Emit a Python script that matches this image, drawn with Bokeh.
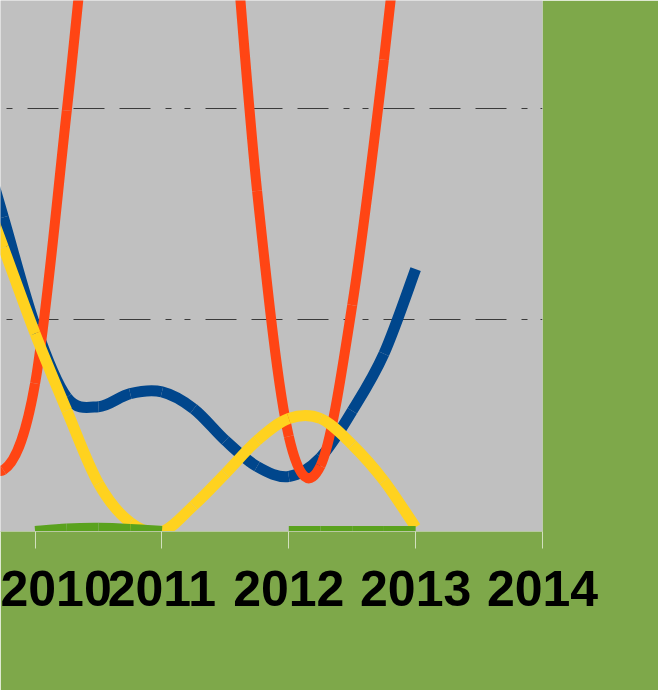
import math
from bokeh.plotting import figure
from bokeh.models import Range1d, FixedTicker, Grid, ColumnDataSource
from bokeh.embed import file_html
from bokeh.resources import INLINE

# ---- data (quarterly positions) ----
quarters = [2009.5, 2009.75, 2010.0, 2010.25, 2010.5, 2010.75, 2011.0, 2011.25,
            2011.5, 2011.75, 2012.0, 2012.25, 2012.5, 2012.75, 2013.0]
blue = [2.0, 1.485, 0.974, 0.634, 0.59, 0.652, 0.66, 0.58, 0.43, 0.307, 0.26, 0.35, 0.57, 0.84, 1.24]
orange = [0.5, 0.29, 0.70, 1.99, 3.4, 4.3, 4.6, 4.3, 3.3, 1.61, 0.45, 0.31, 1.07, 2.23, 3.6]
yellow = [1.75, 1.343, 0.936, 0.572, 0.227, 0.043, 0.0, 0.123, 0.274, 0.43, 0.534, 0.534, 0.41, 0.24, 0.02]
nan = float("nan")
green = [nan, nan, 0.0, 0.012, 0.015, 0.01, 0.0, nan, nan, nan, 0.0, 0.0, 0.0, 0.0, 0.0]
year_ticks = [2010, 2011, 2012, 2013, 2014]
grid_values = [1, 2]

BG = "#7EA84A"
PLOT_BG = "#C0C0C0"

p = figure(width=658, height=690, output_backend="svg", toolbar_location=None,
           x_range=Range1d(2009.7273, 2014.0), y_range=Range1d(0, 2.51),
           y_axis_location=None, margin=(0, 0, 0, 0),
           min_border_left=0, min_border_right=116, min_border_top=0, min_border_bottom=159)
p.border_fill_color = BG
p.background_fill_color = PLOT_BG
p.outline_line_color = None
p.xgrid.visible = False
p.ygrid.visible = False

grid = Grid(dimension=1, ticker=FixedTicker(ticks=grid_values),
            grid_line_color="#3A3A3A", grid_line_width=1,
            grid_line_dash="31 15 31 15 31 15 6 13 6 15", grid_line_dash_offset=151)
p.add_layout(grid)

ax = p.xaxis[0]
ax.ticker = FixedTicker(ticks=year_ticks)
ax.axis_line_color = "#B8C9A0"
ax.axis_line_width = 1
ax.major_tick_line_color = "#D2E0BE"
ax.major_tick_line_width = 1
ax.major_tick_in = 0
ax.major_tick_out = 17
ax.minor_tick_line_color = None
ax.major_label_standoff = 22
ax.major_label_text_font = "Liberation Sans"
ax.major_label_text_font_style = "bold"
ax.major_label_text_font_size = "50px"
ax.major_label_text_color = "#000000"


def runs(xs, ys):
    out, cur = [], []
    for x, y in zip(xs, ys):
        if y is None or (isinstance(y, float) and math.isnan(y)):
            if cur:
                out.append(cur)
            cur = []
        else:
            cur.append((x, y))
    if cur:
        out.append(cur)
    return out


def smooth(xs, ys, color, width):
    d = dict(x0=[], y0=[], x1=[], y1=[], cx0=[], cy0=[], cx1=[], cy1=[])
    for r in runs(xs, ys):
        n = len(r)
        for i in range(n - 1):
            pm = r[i - 1] if i > 0 else r[i]
            p0 = r[i]
            p1 = r[i + 1]
            p2 = r[i + 2] if i + 2 < n else r[i + 1]
            d["x0"].append(p0[0]); d["y0"].append(p0[1])
            d["x1"].append(p1[0]); d["y1"].append(p1[1])
            d["cx0"].append(p0[0] + (p1[0] - pm[0]) / 6.0)
            d["cy0"].append(p0[1] + (p1[1] - pm[1]) / 6.0)
            d["cx1"].append(p1[0] - (p2[0] - p0[0]) / 6.0)
            d["cy1"].append(p1[1] - (p2[1] - p0[1]) / 6.0)
    p.bezier(x0="x0", y0="y0", x1="x1", y1="y1", cx0="cx0", cy0="cy0",
             cx1="cx1", cy1="cy1", source=ColumnDataSource(d),
             line_color=color, line_width=width)


smooth(quarters, blue, "#00468C", 11)
smooth(quarters, orange, "#FF4514", 10)
smooth(quarters, yellow, "#FFD21F", 11)
smooth(quarters, green, "#5AA21E", 11)

open("out.html", "w").write(file_html(p, INLINE))
